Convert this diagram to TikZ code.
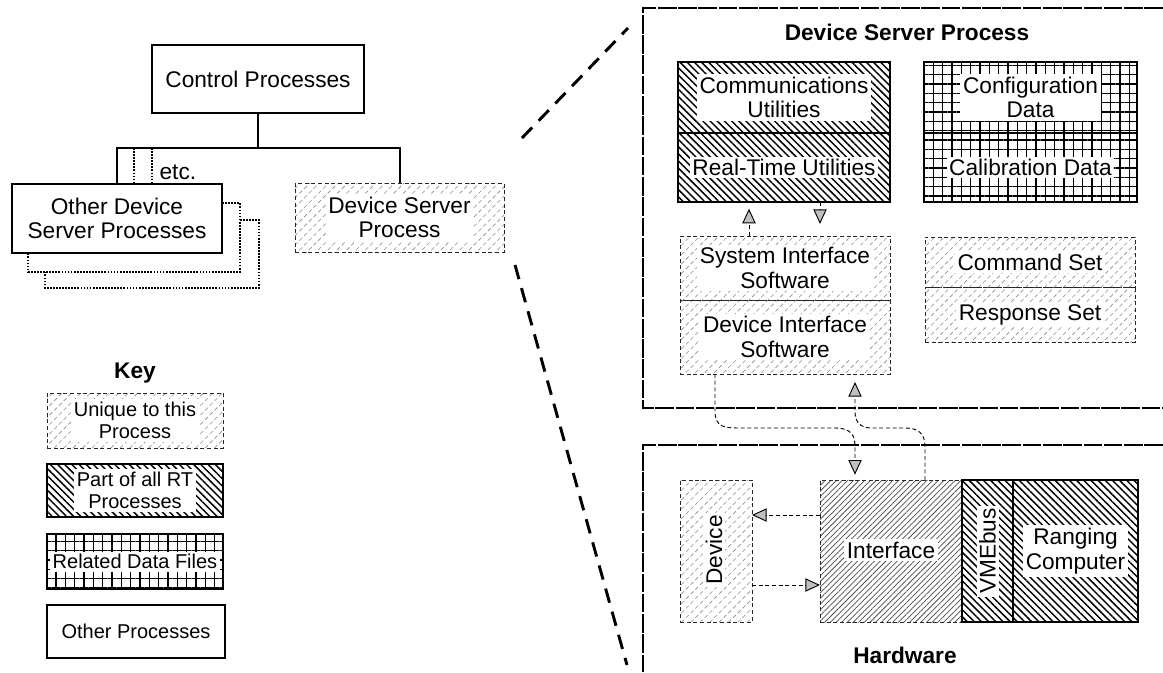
\documentclass[tikz,border=0pt]{standalone}
\usepackage{fontspec}
\setmainfont{Liberation Sans}
\usetikzlibrary{patterns.meta,arrows.meta,fit}
\tikzset{
 unq/.style={draw=black!85, densely dashed, line width=0.6pt, pattern={Lines[angle=45,distance=5pt,line width=0.45pt]}, pattern color=black!45},
 unqd/.style={unq, pattern={Lines[angle=45,distance=3pt,line width=0.55pt]}, pattern color=black!70},
 rtp/.style={draw, line width=1.6pt, pattern={Lines[angle=-45,distance=3.8pt,line width=1.1pt]}},
 grd/.style={draw, line width=1.6pt, pattern={Hatch[angle=0,distance=7pt,line width=0.8pt]}},
 oth/.style={draw, line width=1.6pt, fill=white},
 othk/.style={draw, line width=1.1pt, fill=white},
 txt/.style={fill=white, inner sep=2pt, align=center},
 plain/.style={inner sep=1pt, align=center},
 bx/.style={fit={#1}, inner sep=0pt, outer sep=0pt},
 tree/.style={line width=1.5pt},
 dots/.style={densely dotted, line width=1.3pt},
 frame/.style={line width=0.8pt, dash pattern=on 14pt off 1.2pt},
 zoomline/.style={line width=2.2pt, dash pattern=on 11pt off 7pt},
 conn/.style={densely dashed, line width=0.7pt},
 arr/.style={-{Triangle[length=11pt,width=10pt,fill=black!25]}},
 ttl/.style={font=\fontsize{17}{19}\selectfont\bfseries},
 keyf/.style={font=\fontsize{15}{17}\selectfont},
}
\begin{document}
\begin{tikzpicture}[x=0.75pt,y=-0.75pt,font=\fontsize{17}{18.5}\selectfont]
\useasboundingbox (0,0) rectangle (1163,672);

% ---------- left tree ----------
\node[oth, bx={(152,45) (364,113)}] (ctrl) {};
\node[plain] at (ctrl) {Control Processes};

% stacked dotted outlines behind "Other"
\draw[dots] (222,203) -- (240,203) -- (240,272) -- (28,272) -- (28,253);
\draw[dots] (240,220) -- (259,220) -- (259,288) -- (45,288) -- (45,272);

\node[oth, bx={(12,184) (222,253)}] (other) {};
\node[plain] at (other) {Other Device\\Server Processes};

\node[unq, bx={(295,183) (504,252)}] (dspl) {};
\node[txt] at (dspl) {Device Server\\Process};

\coordinate (bar) at (258,148);
\draw[tree] (ctrl.south -| bar) -- (bar);
\draw[tree] (other.north -| 117,0) |- (bar) -| (dspl.north);
\draw[dots] (134,148) -- (other.north -| 134,0);
\draw[dots] (152,148) -- (other.north -| 152,0);
\node[plain, anchor=west] (etc) at (158,172) {etc.};

% ---------- key ----------
\node[ttl] (key) at (135,373) {Key};
\node[unq, bx={(47,393) (223,448)}] (k1) {};
\node[txt, keyf] at (k1) {Unique to this\\Process};
\node[rtp, bx={(47,464) (223,517)}] (k2) {};
\node[txt, keyf] at (k2) {Part of all RT\\Processes};
\node[grd, bx={(47,534) (223,589)}] (k3) {};
\node[txt, keyf] at (k3) {Related Data Files};
\node[othk, bx={(47,605) (225,658)}] (k4) {};
\node[plain, keyf] at (k4) {Other Processes};

% ---------- zoom lines ----------
\coordinate (zt1) at (522,138);
\coordinate (zt2) at (628,28);
\coordinate (zb1) at (515,265);
\coordinate (zb2) at (627,665);
\draw[zoomline] (zt1) -- (zt2);
\draw[zoomline] (zb1) -- (zb2);

% ---------- Device Server Process frame ----------
\draw[frame] (1163,8) -- (643,8) -- (643,408) -- (1163,408);
\node[ttl] (dsptitle) at (907,32) {Device Server Process};

\node[rtp, bx={(678,62) (890,133)}] (comm) {};
\node[txt] at (comm) {Communications\\Utilities};
\node[rtp, bx={(678,133) (890,202)}] (rtu) {};
\node[txt] at (rtu) {Real-Time Utilities};

\node[grd, bx={(924,62) (1137,133)}] (conf) {};
\node[txt] at (conf) {Configuration\\Data};
\node[grd, bx={(924,133) (1137,202)}] (calib) {};
\node[txt] at (calib) {Calibration Data};

\node[unq, bx={(680,236) (890,300)}] (sis) {};
\node[txt] at (sis) {System Interface\\Software};
\node[unq, bx={(680,300) (890,374)}] (dis) {};
\node[txt] at (dis) {Device Interface\\Software};

\node[unq, bx={(925,237) (1135,287)}] (cmd) {};
\node[txt] at (cmd) {Command Set};
\node[unq, bx={(925,287) (1135,342)}] (resp) {};
\node[txt] at (resp) {Response Set};

\draw[conn, arr, shorten >=5pt] (sis.north -| 749,0) -- (rtu.south -| 749,0);
\draw[conn, arr, shorten >=9pt] (rtu.south -| 820,0) -- (sis.north -| 820,0);

% ---------- Hardware frame ----------
\draw[frame] (1163,445) -- (643,445) -- (643,672);
\node[ttl] (hwtitle) at (905,655) {Hardware};

\node[unq, bx={(680,480) (752,622)}] (dev) {};
\node[txt, rotate=90] at (714,550) {Device};
\node[unqd, bx={(820,480) (962,622)}] (intf) {};
\node[txt] at (891,550) {Interface};
\node[rtp, bx={(962,480) (1013,622)}] (vme) {};
\node[txt, rotate=90] at (vme) {VMEbus};
\node[rtp, bx={(1013,480) (1138,622)}] (rang) {};
\node[txt] at (rang) {Ranging\\Computer};

\draw[conn, arr] (intf.west |- 0,515) -- (dev.east |- 0,515);
\draw[conn, arr] (dev.east |- 0,585) -- (intf.west |- 0,585);

% connectors between software and hardware
\draw[conn, arr, shorten >=4pt] (dis.south -| 715,0) -- (715,411)
  .. controls (715,428) and (725,428) .. (742,428) -- (835,428)
  .. controls (851,428) and (855,435) .. (855,447) -- (intf.north -| 855,0);
\draw[conn, arr, shorten >=6pt] (intf.north -| 925,0) -- (925,447)
  .. controls (925,433) and (918,428) .. (905,428) -- (872,428)
  .. controls (859,428) and (855,421) .. (855,411) -- (dis.south -| 855,0);
\end{tikzpicture}
\end{document}
